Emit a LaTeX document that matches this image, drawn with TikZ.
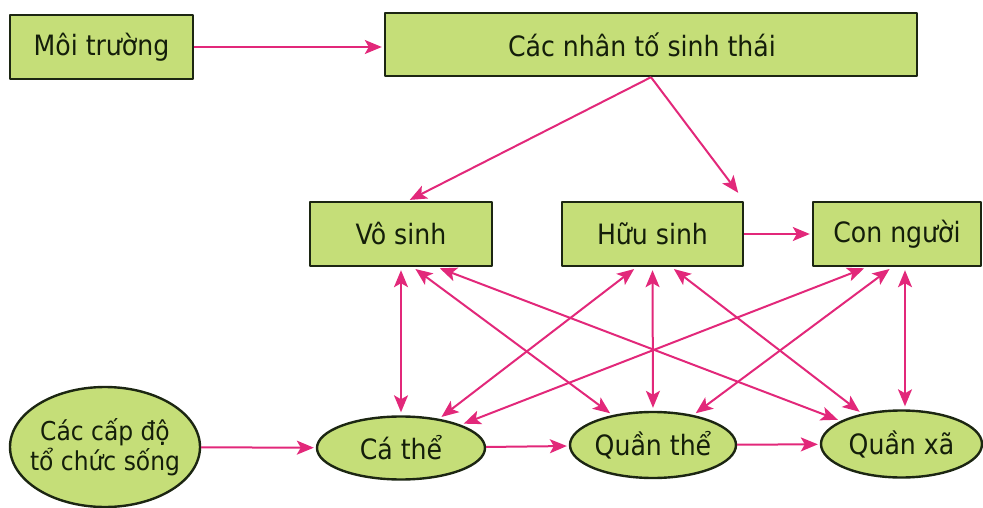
\documentclass[tikz,border=0pt]{standalone}
\usepackage{fontspec}
\setmainfont{DejaVu Sans Condensed}
\usetikzlibrary{arrows.meta,shapes.geometric}
\definecolor{boxfill}{RGB}{197,222,120}
\definecolor{boxline}{RGB}{28,38,18}
\definecolor{linkpink}{RGB}{226,40,122}
\definecolor{labeltext}{RGB}{20,30,10}
\tikzset{
  box/.style={draw=boxline, fill=boxfill, line width=2.4pt, inner sep=0pt,
    minimum height=64pt, text=labeltext, font=\fontsize{28}{32}\selectfont},
  oval/.style={ellipse, draw=boxline, fill=boxfill, line width=2.4pt,
    inner xsep=-6pt, inner ysep=0pt, text=labeltext,
    font=\fontsize{28}{32}\selectfont},
  link/.style={draw=linkpink, line width=2pt, -{Stealth[length=17pt,width=14pt,inset=4pt]},
    shorten >=2pt},
  twoway/.style={link, {Stealth[length=17pt,width=14pt,inset=4pt]}-{Stealth[length=17pt,width=14pt,inset=4pt]},
    shorten <=3pt, shorten >=3pt}
}
\begin{document}
\begin{tikzpicture}[x=1pt, y=-1pt, line join=round]
  \useasboundingbox (0,0) rectangle (983,508);

  % Top boxes
  \node[box, minimum width=183pt] (moitruong) at (101.5,47) {Môi trường};
  \node[box, minimum width=532pt, minimum height=63pt] (nhanto) at (651,44.5)
    {\hspace*{-18pt}Các nhân tố sinh thái};

  \node[box, minimum width=182pt] (vosinh) at (401,234) {Vô sinh};
  \node[box, minimum width=181pt] (huusinh) at (652.5,234) {Hữu sinh};
  \node[box, minimum width=168pt] (connguoi) at (897,234) {Con người};

  % Levels of organisation
  \node[oval, minimum width=190pt, minimum height=120pt, inner xsep=-12pt, align=center,
    font=\fontsize{26}{30}\selectfont] (capdo) at (105,447) {Các cấp độ\\tổ chức sống};
  \node[oval, minimum width=168pt, minimum height=63pt] (cathe) at (401,448) {Cá thể};
  \node[oval, minimum width=166pt, minimum height=66pt] (quanthe) at (653,445) {Quần thể};
  \node[oval, minimum width=161pt, minimum height=67pt] (quanxa) at (901.5,444) {Quần xã};

  % One-way links
  \draw[link] (moitruong.east) -- (moitruong.east -| nhanto.west);
  \draw[link] (nhanto.south) -- ([xshift=7pt]vosinh.north);
  \draw[link, shorten >=10pt] (nhanto.south) -- (huusinh.north east);
  \draw[link] (huusinh) -- (connguoi);
  \draw[link] (capdo) -- (cathe);
  \draw[link] (cathe) -- (quanthe);
  \draw[link] (quanthe) -- (quanxa);

  % Two-way links between factors and levels
  \draw[twoway] (vosinh.south) -- (cathe.north);
  \draw[twoway] ([xshift=12pt]vosinh.south) -- (quanthe);
  \draw[twoway] ([xshift=36pt]vosinh.south) -- (quanxa);
  \draw[twoway] ([xshift=-16pt]huusinh.south) -- (cathe);
  \draw[twoway] (huusinh.south) -- (quanthe.north);
  \draw[twoway] ([xshift=19pt]huusinh.south) -- (quanxa);
  \draw[twoway] ([xshift=-30pt]connguoi.south) -- (cathe);
  \draw[twoway] ([xshift=-5pt]connguoi.south) -- (quanthe);
  \draw[twoway] ([xshift=8pt]connguoi.south) -- ([xshift=8pt]connguoi.south |- quanxa.north);
\end{tikzpicture}
\end{document}
